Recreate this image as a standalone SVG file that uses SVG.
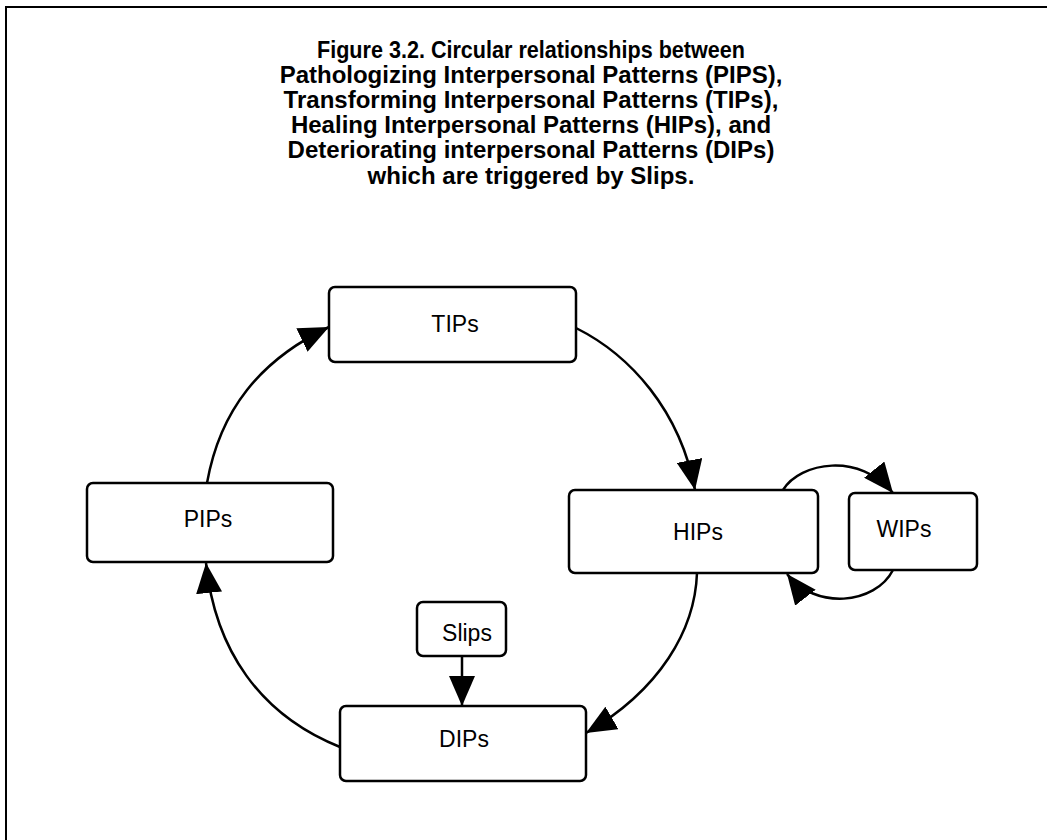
<svg xmlns="http://www.w3.org/2000/svg" width="1047" height="840" viewBox="0 0 1047 840">
<style>
.box{fill:#fff;stroke:#000;stroke-width:2.5}
.lbl{font-family:"Liberation Sans",Arial,sans-serif;font-size:23px;text-anchor:middle;fill:#000}
.title{font-family:"Liberation Sans",Arial,sans-serif;font-size:24px;font-weight:bold;text-anchor:middle;fill:#000}
.edge{fill:none;stroke:#000;stroke-width:2.5;marker-end:url(#ah)}
</style>
<defs>
<marker id="ah" markerUnits="userSpaceOnUse" markerWidth="30" markerHeight="26" refX="30" refY="13" orient="auto">
<path d="M0,0 L30,13 L0,26 z" fill="#000"/>
</marker>
</defs>
<rect width="1047" height="840" fill="#fff"/>
<path d="M6,840 V7 H1047" fill="none" stroke="#000" stroke-width="2"/>
<g id="title">
<text class="title" x="531" y="58" textLength="428" lengthAdjust="spacingAndGlyphs">Figure 3.2. Circular relationships between</text>
<text class="title" x="531" y="83">Pathologizing Interpersonal Patterns (PIPS),</text>
<text class="title" x="531" y="108">Transforming Interpersonal Patterns (TIPs),</text>
<text class="title" x="531" y="133">Healing Interpersonal Patterns (HIPs), and</text>
<text class="title" x="531" y="158">Deteriorating interpersonal Patterns (DIPs)</text>
<text class="title" x="531" y="184">which are triggered by  Slips.</text>
</g>
<g id="connectors">
<path class="edge" d="M207,483 C220,410 260,360 329,327"/>
<path class="edge" d="M576,328 C630,355 680,410 695,490"/>
<path class="edge" d="M697,573 C695,630 660,690 586,733"/>
<path class="edge" d="M340,747 C260,715 215,650 206,563"/>
<path class="edge" d="M462,656 V706"/>
<path class="edge" d="M783,490 C800,462 860,452 893,493"/>
<path class="edge" d="M893,570 C875,605 815,610 787,574"/>
</g>
<g id="TIPs"><rect class="box" x="329" y="287" width="247" height="75" rx="6"/><text class="lbl" x="455" y="332">TIPs</text></g>
<g id="PIPs"><rect class="box" x="87" y="483" width="246" height="79" rx="6"/><text class="lbl" x="208" y="527">PIPs</text></g>
<g id="HIPs"><rect class="box" x="569" y="490" width="249" height="83" rx="6"/><text class="lbl" x="698" y="540">HIPs</text></g>
<g id="WIPs"><rect class="box" x="849" y="493" width="128" height="77" rx="6"/><text class="lbl" x="904" y="537">WIPs</text></g>
<g id="Slips"><rect class="box" x="417" y="602" width="89" height="54" rx="6"/><text class="lbl" x="467" y="641">Slips</text></g>
<g id="DIPs"><rect class="box" x="340" y="706" width="246" height="75" rx="6"/><text class="lbl" x="464" y="747">DIPs</text></g>
</svg>
